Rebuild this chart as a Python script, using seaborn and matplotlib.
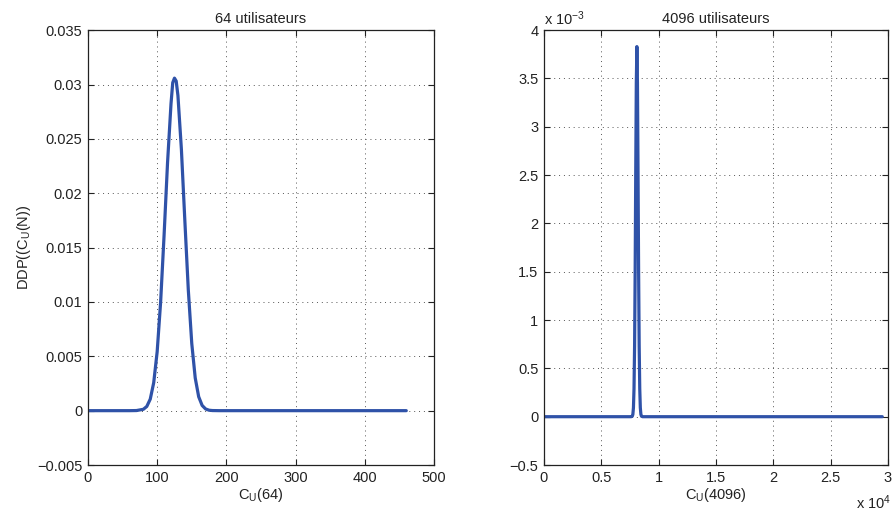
import numpy as np
import pandas as pd
import matplotlib
matplotlib.use("Agg")
import matplotlib.pyplot as plt
import seaborn as sns
from matplotlib.ticker import FuncFormatter

# Left panel: 64 users
cu64 = [0, 60, 70, 80, 85, 90, 95, 100, 105, 110, 115, 120, 122.5, 125, 127.5,
        130, 135, 140, 145, 150, 155, 160, 165, 170, 175, 180, 190, 460]
ddp64 = [0.0, 0.0, 0.00001, 0.000124, 0.000387, 0.00106, 0.00257, 0.00542,
         0.00999, 0.01614, 0.02281, 0.02823, 0.03017, 0.03059, 0.03032,
         0.02899, 0.02406, 0.01748, 0.01111, 0.00618, 0.00301, 0.00128,
         0.00048, 0.000157, 0.00004, 0.00001, 0.0, 0.0]

# Right panel: 4096 users
cu4096 = [0, 7600, 7700, 7750, 7800, 7850, 7900, 7950, 8000, 8050, 8100,
          8150, 8200, 8250, 8300, 8350, 8400, 8450, 8500, 8600, 29500]
ddp4096 = [0.0, 0.0, 0.000005, 0.000024, 0.000093, 0.000290, 0.000733,
           0.001511, 0.002534, 0.003454, 0.00383, 0.003454, 0.002534,
           0.001511, 0.000733, 0.000290, 0.000093, 0.000024, 0.000005, 0.0, 0.0]

left_yticks = [-0.005, 0, 0.005, 0.01, 0.015, 0.02, 0.025, 0.03, 0.035]
left_xticks = [0, 100, 200, 300, 400, 500]
right_yticks = [-0.0005, 0, 0.0005, 0.001, 0.0015, 0.002, 0.0025, 0.003, 0.0035, 0.004]
right_xticks = [0, 5000, 10000, 15000, 20000, 25000, 30000]

sns.set_theme(style="white")
plt.rcParams['font.family'] = ['Liberation Sans', 'DejaVu Sans']
plt.rcParams['mathtext.fontset'] = 'custom'
plt.rcParams['mathtext.rm'] = 'Liberation Sans'
plt.rcParams['mathtext.it'] = 'Liberation Sans'

line_color = '#2f52a8'
text_color = '#222222'
fs = 10.5

fig = plt.figure(figsize=(8.94, 5.14), dpi=100)
ax1 = fig.add_axes([0.0984, 0.0953, 0.387, 0.846])
ax2 = fig.add_axes([0.6085, 0.0953, 0.3848, 0.846])

sns.lineplot(x=cu64, y=ddp64, ax=ax1, color=line_color, linewidth=2.3)
sns.lineplot(x=cu4096, y=ddp4096, ax=ax2, color=line_color, linewidth=2.3)


def style_axes(ax, xticks, yticks):
    ax.set_xlim(xticks[0], xticks[-1])
    ax.set_ylim(yticks[0], yticks[-1])
    ax.set_xticks(xticks)
    ax.set_yticks(yticks)
    ax.grid(True, linestyle=(0, (1, 4)), color='#555555', linewidth=0.7)
    ax.tick_params(direction='in', length=4, width=0.8, colors=text_color,
                   labelsize=fs, top=True, right=True, bottom=True, left=True,
                   labelcolor=text_color, pad=4)
    for sp in ax.spines.values():
        sp.set_color(text_color)
        sp.set_linewidth(0.9)


style_axes(ax1, left_xticks, left_yticks)
style_axes(ax2, right_xticks, right_yticks)

ax1.yaxis.set_major_formatter(FuncFormatter(lambda v, p: f"{v:g}".replace('-', '\u2212')))
ax2.xaxis.set_major_formatter(FuncFormatter(lambda v, p: f"{v / 1e4:g}"))
ax2.yaxis.set_major_formatter(FuncFormatter(lambda v, p: f"{v * 1e3:g}".replace('-', '\u2212')))

ax1.set_title('64 utilisateurs', fontsize=fs, pad=5, color=text_color)
ax2.set_title('4096 utilisateurs', fontsize=fs, pad=5, color=text_color)
ax1.set_xlabel(r'C$_\mathregular{U}$(64)', fontsize=fs, color=text_color, labelpad=1)
ax2.set_xlabel(r'C$_\mathregular{U}$(4096)', fontsize=fs, color=text_color, labelpad=1)
ax1.set_ylabel(r'DDP((C$_\mathregular{U}$(N))', fontsize=fs, color=text_color, labelpad=3)

ax2.text(0.0, 1.005, r'x 10$^{\mathregular{-3}}$', transform=ax2.transAxes,
         ha='left', va='bottom', fontsize=fs, color=text_color)
ax2.text(1.008, -0.087, r'x 10$^{\mathregular{4}}$', transform=ax2.transAxes,
         ha='right', va='center', fontsize=fs, color=text_color)

fig.savefig('out.png', dpi=100, facecolor='white')
